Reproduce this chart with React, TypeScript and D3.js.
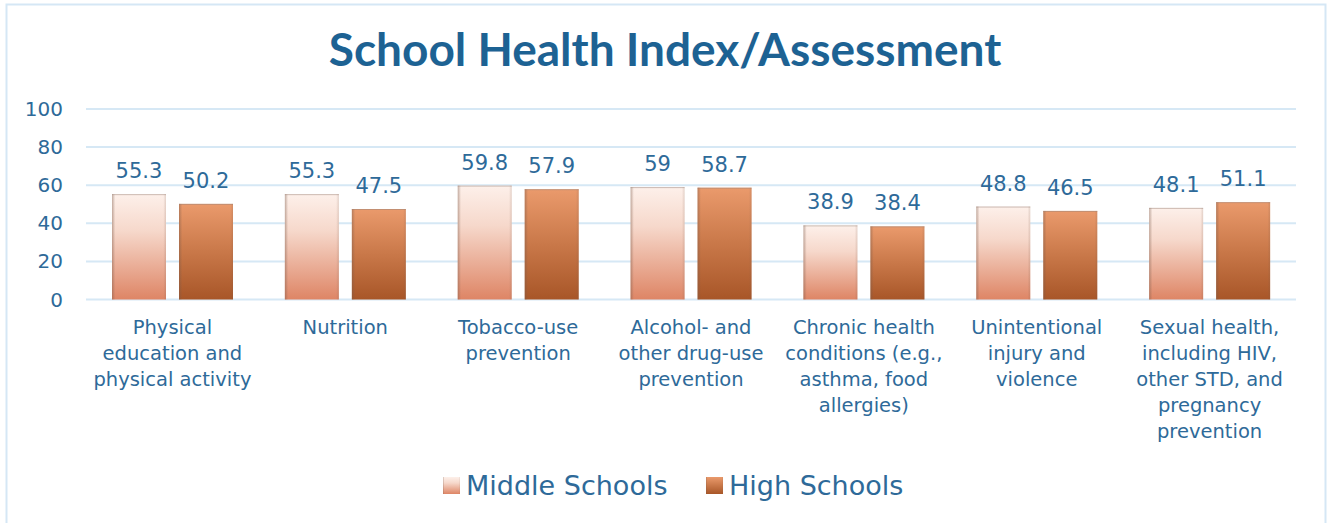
import React from "react";
import * as d3 from "d3";

const categories: string[][] = [
  ["Physical", "education and", "physical activity"],
  ["Nutrition"],
  ["Tobacco-use", "prevention"],
  ["Alcohol- and", "other drug-use", "prevention"],
  ["Chronic health", "conditions (e.g.,", "asthma, food", "allergies)"],
  ["Unintentional", "injury and", "violence"],
  ["Sexual health,", "including HIV,", "other STD, and", "pregnancy", "prevention"],
];
const seriesNames = ["Middle Schools", "High Schools"];
const middleSchools = [55.3, 55.3, 59.8, 59, 38.9, 48.8, 48.1];
const highSchools = [50.2, 47.5, 57.9, 58.7, 38.4, 46.5, 51.1];
const yTicks = [0, 20, 40, 60, 80, 100];
const title = "School Health Index/Assessment";

const W = 1331;
const H = 523;
const TEXT = "#2E6A99";
const FONT = "'DejaVu Sans', sans-serif";

export default function App() {
  const keys = categories.map((c, i) => String(i));
  const x0 = d3.scaleBand<string>().domain(keys).range([86, 1296]).paddingInner(0).paddingOuter(0);
  const x1 = d3.scaleBand<string>().domain(seriesNames).range([26, 147]).paddingInner(13 / 67).paddingOuter(0);
  const y = d3.scaleLinear().domain([0, 100]).range([299.5, 109]);
  const series = [middleSchools, highSchools];
  const fills = ["url(#gMS)", "url(#gHS)"];

  return (
    <svg width={W} height={H} style={{ position: "absolute", left: 0, top: 0, background: "#fff" }}>
      <defs>
        <linearGradient id="gMS" x1="0" y1="0" x2="0" y2="1">
          <stop offset="0" stopColor="#FDF0EA" />
          <stop offset="0.35" stopColor="#F6D8CB" />
          <stop offset="1" stopColor="#DE8565" />
        </linearGradient>
        <linearGradient id="gHS" x1="0" y1="0" x2="0" y2="1">
          <stop offset="0" stopColor="#EA9A6C" />
          <stop offset="0.5" stopColor="#C97849" />
          <stop offset="1" stopColor="#A85628" />
        </linearGradient>
        <linearGradient id="edge" x1="0" y1="0" x2="1" y2="0">
          <stop offset="0" stopColor="#7a5a4a" stopOpacity="0.45" />
          <stop offset="0.06" stopColor="#7a5a4a" stopOpacity="0" />
          <stop offset="0.95" stopColor="#7a5a4a" stopOpacity="0" />
          <stop offset="1" stopColor="#7a5a4a" stopOpacity="0.2" />
        </linearGradient>
      </defs>
      {/* outer border */}
      <rect x={6.5} y={4.5} width={1319} height={H + 10} fill="none" stroke="#D5E7F5" strokeWidth={2} />

      <text x={665} y={66} textAnchor="middle" fontFamily="Lato, sans-serif" fontWeight={700} fontSize={46} fill="#1D6293">
        {title}
      </text>

      {/* gridlines */}
      {yTicks.map((t) => (
        <g key={t}>
          <line x1={86} x2={1296} y1={y(t)} y2={y(t)} stroke="#D6E8F5" strokeWidth={2} />
          <text x={63} y={y(t) + 7} textAnchor="end" fontFamily={FONT} fontSize={20} fill={TEXT}>
            {t}
          </text>
        </g>
      ))}

      {/* bars */}
      {keys.map((k, i) => (
        <g key={k} transform={`translate(${x0(k)},0)`}>
          {seriesNames.map((s, j) => {
            const v = series[j][i];
            const bx = x1(s)!;
            const bw = x1.bandwidth();
            return (
              <g key={s}>
                <rect x={bx} y={y(v)} width={bw} height={y(0) - y(v)} fill={fills[j]} />
                <rect x={bx} y={y(v)} width={bw} height={y(0) - y(v)} fill="url(#edge)" />
                <line x1={bx} x2={bx + bw} y1={y(v) + 0.5} y2={y(v) + 0.5} stroke="#9c8378" strokeOpacity={0.5} />
                <text x={bx + bw / 2} y={y(v) - 16} textAnchor="middle" fontFamily={FONT} fontSize={21} fill={TEXT}>
                  {v}
                </text>
              </g>
            );
          })}
          <text textAnchor="middle" fontFamily={FONT} fontSize={19.5} fill={TEXT}>
            {categories[i].map((line, li) => (
              <tspan key={li} x={x0.bandwidth() / 2} y={334 + li * 26}>
                {line}
              </tspan>
            ))}
          </text>
        </g>
      ))}

      {/* legend */}
      {seriesNames.map((s, j) => {
        const lx = j === 0 ? 443 : 706;
        return (
          <g key={s}>
            <rect x={lx} y={477} width={17} height={17} fill={fills[j]} />
            <rect x={lx} y={477} width={17} height={17} fill="url(#edge)" />
            <text x={lx + 23} y={495} fontFamily={FONT} fontSize={27} fill={TEXT}>
              {s}
            </text>
          </g>
        );
      })}
    </svg>
  );
}
